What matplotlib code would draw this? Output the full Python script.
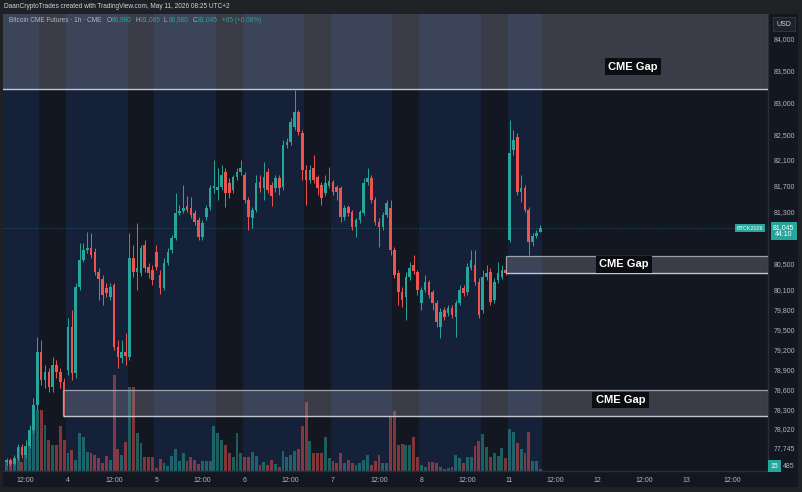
import numpy as np
import matplotlib.pyplot as plt
from matplotlib.patches import Rectangle
from matplotlib.ticker import NullLocator

plt.rcParams['font.family'] = ['Liberation Sans', 'DejaVu Sans']

# hourly CME bars, Fri May 1 07:00 -> Mon May 11 08:00 (UTC+2), weekend skipped
opens = [
    77535, 77565, 77505, 77595, 77755, 77640, 77770, 78005, 78375, 79165,
    78750, 78865, 78645, 78970, 78865, 78720, 78895, 79545, 78850, 80150,
    80560, 80710, 80740, 80680, 80375, 80270, 80135, 79995, 80180, 79240,
    79075, 79165, 79090, 80590, 80375, 80360, 80790, 80450, 80405, 80680,
    80330, 80135, 80510, 80710, 80895, 81280, 81310, 81385, 81355, 81280,
    81170, 80910, 81215, 81370, 81665, 81635, 81680, 81910, 81740, 81635,
    81835, 81910, 81865, 81480, 81200, 81325, 81755, 81665, 81910, 81710,
    81665, 81820, 81680, 82330, 82380, 82610, 82845, 82520, 81940, 81790,
    81975, 81835, 81710, 81585, 81695, 81755, 81680, 81665, 81215, 81370,
    81295, 81060, 81170, 81280, 81755, 81820, 81480, 81140, 81060, 81245,
    81355, 80710, 80360, 80070, 79995, 80300, 80480, 80375, 79905, 80100,
    80225, 80070, 79905, 79545, 79800, 79755, 79830, 79695, 79905, 80135,
    80070, 80435, 80480, 80225, 79800, 80300, 80375, 79950, 80255, 80300,
    80405, 80865, 82255, 82455, 81600, 81665, 81325, 80835, 80925, 80980,
]
highs = [
    77595, 77595, 77640, 77800, 77800, 77860, 78080, 78480, 79390, 79345,
    78970, 78925, 79090, 79045, 78925, 78780, 79680, 79800, 80210, 80820,
    80820, 80985, 80970, 80740, 80435, 80330, 80210, 80210, 80210, 79345,
    79345, 79450, 80970, 80790, 81125, 80790, 80865, 80510, 80480, 80790,
    80405, 80590, 80740, 80940, 81585, 81400, 81710, 81540, 81525, 81325,
    81215, 81170, 81400, 81710, 82100, 81975, 82020, 81975, 81820, 81865,
    81975, 82100, 81910, 81525, 81370, 81865, 81865, 82065, 81975, 81755,
    81865, 81865, 82410, 82440, 82750, 83195, 82880, 82565, 82020, 82020,
    82175, 81865, 81755, 81865, 81990, 81790, 81710, 81695, 81400, 81400,
    81325, 81200, 81325, 81820, 81975, 81865, 81525, 81200, 81295, 81480,
    81480, 80755, 80405, 80150, 80375, 80525, 80635, 80405, 80150, 80330,
    80255, 80100, 79950, 79830, 79845, 79875, 79875, 79950, 80180, 80180,
    80510, 80710, 80710, 80285, 80405, 80480, 80435, 80285, 80525, 80480,
    80435, 82720, 82565, 82520, 81865, 81710, 81370, 80970, 81015, 81085,
]
lows = [
    77490, 77475, 77490, 77565, 77595, 77595, 77740, 77960, 78300, 78675,
    78630, 78570, 78570, 78780, 78630, 78200, 78820, 78750, 78780, 80100,
    80525, 80665, 80590, 80330, 79950, 79875, 79995, 79950, 79195, 78925,
    79000, 78970, 79045, 80300, 80100, 80315, 80375, 80285, 80180, 80405,
    80040, 80100, 80480, 80665, 80865, 81245, 81280, 81295, 81200, 81095,
    80865, 80865, 81170, 81325, 81585, 81480, 81635, 81370, 81510, 81585,
    81790, 81865, 81430, 81015, 81045, 81295, 81600, 81480, 81585, 81385,
    81600, 81555, 81635, 82285, 82330, 82565, 82490, 81790, 81400, 81740,
    81740, 81555, 81400, 81540, 81665, 81555, 81480, 81140, 81170, 81230,
    81015, 80910, 81125, 81245, 81710, 81430, 81095, 80755, 81015, 81215,
    80635, 80285, 79875, 79845, 79650, 80255, 80345, 80025, 79800, 80070,
    79980, 79800, 79545, 79375, 79650, 79710, 79680, 79390, 79875, 80010,
    80025, 80405, 80180, 79680, 79755, 80255, 79875, 79905, 80210, 80270,
    80330, 80835, 82175, 81555, 81450, 81295, 80635, 80770, 80895, 80980,
]
closes = [
    77565, 77505, 77595, 77755, 77640, 77770, 78005, 78375, 79165, 78750,
    78865, 78645, 78970, 78865, 78720, 78375, 79545, 78850, 80150, 80560,
    80710, 80740, 80635, 80375, 80270, 80025, 80055, 80150, 79240, 79090,
    79165, 79105, 80590, 80375, 80435, 80740, 80435, 80360, 80255, 80450,
    80135, 80510, 80680, 80895, 81280, 81310, 81355, 81325, 81245, 81140,
    80910, 81125, 81355, 81665, 81695, 81680, 81865, 81585, 81585, 81835,
    81910, 81975, 81480, 81215, 81325, 81740, 81665, 81835, 81635, 81540,
    81820, 81665, 82330, 82380, 82690, 82845, 82535, 81940, 81790, 81940,
    81790, 81665, 81510, 81740, 81770, 81600, 81600, 81215, 81355, 81280,
    81060, 81170, 81295, 81740, 81820, 81480, 81140, 81060, 81245, 81430,
    80710, 80330, 80070, 79950, 80300, 80435, 80390, 80100, 80100, 80225,
    80025, 79905, 79620, 79770, 79695, 79830, 79725, 79905, 80100, 80055,
    80450, 80560, 80225, 79725, 80300, 80360, 79920, 80225, 80360, 80405,
    80360, 82205, 82410, 81600, 81665, 81325, 80835, 80925, 80970, 81045,
]
volumes = [
    68, 83, 60, 180, 68, 143, 233, 450, 458, 458,
    345, 233, 195, 195, 338, 233, 135, 158, 83, 285,
    255, 143, 135, 120, 98, 60, 113, 83, 720, 165,
    120, 218, 630, 630, 285, 210, 105, 105, 105, 23,
    90, 60, 38, 113, 165, 75, 135, 75, 105, 83,
    53, 75, 75, 75, 338, 285, 233, 195, 135, 105,
    285, 135, 105, 105, 143, 113, 45, 68, 45, 83,
    53, 30, 150, 105, 120, 150, 165, 338, 518, 225,
    135, 135, 135, 255, 98, 75, 60, 135, 60, 83,
    60, 45, 60, 83, 120, 45, 75, 120, 60, 60,
    413, 450, 195, 203, 195, 195, 255, 105, 45, 30,
    68, 68, 60, 30, 15, 23, 30, 120, 98, 60,
    105, 105, 188, 225, 278, 180, 105, 135, 113, 173,
    98, 315, 293, 210, 165, 135, 293, 75, 75, 15,
]

day_starts = [-7, 16, 39, 62, 85, 108, 131]   # bar index of 00:00 for each session day
tick_pos = [5, 16, 28, 39, 51, 62, 74, 85, 97, 108, 120, 131, 143, 154, 166, 177, 189]
tick_lab = ['12:00', '4', '12:00', '5', '12:00', '6', '12:00', '7', '12:00', '8',
            '12:00', '11', '12:00', '12', '12:00', '13', '12:00']
price_ticks = [84000, 83500, 83000, 82500, 82100, 81700, 81300, 80500, 80100, 79800,
               79500, 79200, 78900, 78600, 78300, 78020, 77745]
vol_tick_tail = '485'   # what is left visible of the 77,485 label next to the volume badge

gap_start = [-5, 130, 14.7]
gap_low = [83210, 80360, 78215]
gap_high = [85000, 80620, 78600]
gap_label_x = [163.1, 160.8, 159.9]
gap_label_y = [83560, 80490, 78450]

last_price = 81045

GREEN = '#26a69a'
RED = '#ef5350'
BG = '#131722'
BAND = '#152039'
TXT = '#b2b5be'
XMIN, XMAX = -0.93, 198.3
VOL_TOP = 3430

fig = plt.figure(figsize=(8.03, 4.92), dpi=100, facecolor=BG)


def fx(px):
    return px / 803


def fy(py):
    return 1 - py / 492


# outer frame / header strip
for x0, y0, w, h in [(0, 0, 803, 14), (0, 0, 3, 492), (798, 0, 5, 492), (0, 487, 803, 5)]:
    fig.add_artist(Rectangle((fx(x0), fy(y0 + h)), w / 803, h / 492,
                             transform=fig.transFigure, fc='#202124', ec='none', zorder=-5))

rect = [fx(3), fy(471), 765 / 803, 457 / 492]

# background: session bands + volume
ax_bg = fig.add_axes(rect, zorder=0)
ax_bg.set_facecolor(BG)
ax_bg.set_xlim(XMIN, XMAX)
ax_bg.set_ylim(0, VOL_TOP)
n = len(opens)
for d in day_starts:
    ax_bg.axvspan(max(d - 0.5, XMIN), min(d + 15.5, n - 0.5), color=BAND, lw=0)
idx = np.arange(n)
o = np.array(opens)
c = np.array(closes)
up = c >= o
ax_bg.bar(idx, volumes, width=0.75, color=np.where(up, GREEN, RED), alpha=0.5, lw=0)
ax_bg.set_xticks([])
ax_bg.set_yticks([])
for s in ax_bg.spines.values():
    s.set_visible(False)

# price pane
ax = fig.add_axes(rect, zorder=1)
ax.set_facecolor('none')
ax.set_yscale('log')
cols = np.where(up, GREEN, RED)
ax.vlines(idx, lows, highs, colors=cols, lw=0.7, zorder=2)
body_h = np.maximum(np.abs(c - o), 8)
ax.bar(idx, body_h, bottom=np.minimum(o, c), width=0.68, color=cols, lw=0, zorder=3)

ax.axhline(last_price, color=GREEN, lw=0.6, ls=(0, (1, 2)), alpha=0.6, zorder=1)

for i in range(3):
    ax.add_patch(Rectangle((gap_start[i], gap_low[i]), XMAX + 5 - gap_start[i],
                           gap_high[i] - gap_low[i], fc='#9598a1', alpha=0.3, ec='none', zorder=4))
    ax.hlines(gap_low[i], gap_start[i], XMAX + 5, color='#c3c6ce', lw=1.0, zorder=5)
    if i > 0:
        ax.hlines(gap_high[i], gap_start[i], XMAX + 5, color='#9ea1a9', lw=0.9, zorder=5)
        ax.vlines(gap_start[i], gap_low[i], gap_high[i], color='#9ea1a9', lw=0.9, zorder=5)
    ax.text(gap_label_x[i], gap_label_y[i], 'CME Gap', ha='center', va='center',
            fontsize=8, fontweight='bold', color='white', zorder=6,
            bbox=dict(boxstyle='square,pad=0.3', fc='#0c0d10', ec='none'))

ax.set_xlim(XMIN, XMAX)
ax.set_ylim(77401, 84399)
ax.yaxis.tick_right()
ax.set_yticks(price_ticks, [f'{v:,}' for v in price_ticks])
ax.yaxis.set_minor_locator(NullLocator())
ax.set_xticks(tick_pos, tick_lab)
ax.tick_params(axis='y', length=0, pad=4, labelsize=5, labelcolor=TXT)
ax.tick_params(axis='x', length=0, pad=4.5, labelsize=5, labelcolor=TXT)
for side in ['top', 'left']:
    ax.spines[side].set_visible(False)
for side in ['right', 'bottom']:
    ax.spines[side].set_color('#2a2e39')
    ax.spines[side].set_linewidth(1)

# price labels on the right
ax.text(0.9765, last_price, 'BTCK2026', transform=ax.get_yaxis_transform(), ha='center',
        va='center', fontsize=4, color='white', zorder=7,
        bbox=dict(boxstyle='square,pad=0.25', fc=GREEN, ec='none'))
ax.text(1.0205, 81000, f'{last_price:,}\n44:10', transform=ax.get_yaxis_transform(),
        ha='center', va='center', fontsize=5, color='white', linespacing=1.0, zorder=7,
        clip_on=False, bbox=dict(boxstyle='square,pad=0.35', fc=GREEN, ec='none'))
fig.text(fx(770.5), fy(466), str(volumes[-1]), ha='left', va='center', fontsize=5, color='white',
         bbox=dict(boxstyle='square,pad=0.35', fc=GREEN, ec='none'), zorder=8)
fig.text(fx(783), fy(466), vol_tick_tail, ha='left', va='center', fontsize=5, color=TXT, zorder=8)
fig.text(fx(784), fy(24), 'USD', ha='center', va='center', fontsize=5, color='#d1d4dc',
         bbox=dict(boxstyle='square,pad=0.45', fc='#1e222d', ec='#363a45', lw=0.6), zorder=8)

# header and legend
fig.text(fx(4), fy(6.5), 'DaanCryptoTrades created with TradingView.com, May 11, 2026 08:25 UTC+2',
         ha='left', va='center', fontsize=4.7, color='#d1d4dc')
leg_y = fy(20)
fig.text(fx(9), leg_y, 'Bitcoin CME Futures · 1h · CME', ha='left', va='center',
         fontsize=4.7, color=TXT, zorder=8)
ohlc = [('O', opens[-1]), ('H', highs[-1]), ('L', lows[-1]), ('C', closes[-1])]
lx = [107, 136, 164, 193]
for (k, v), x in zip(ohlc, lx):
    fig.text(fx(x), leg_y, k, ha='left', va='center', fontsize=4.7, color=TXT, zorder=8)
    fig.text(fx(x + 5), leg_y, f'{v:,}', ha='left', va='center', fontsize=4.7, color=GREEN, zorder=8)
chg = closes[-1] - opens[-1]
fig.text(fx(222), leg_y, f'+{chg} (+{chg / opens[-1] * 100:.2f}%)', ha='left', va='center',
         fontsize=4.7, color=GREEN, zorder=8)

fig.savefig('out.png', dpi=100, facecolor=fig.get_facecolor())
